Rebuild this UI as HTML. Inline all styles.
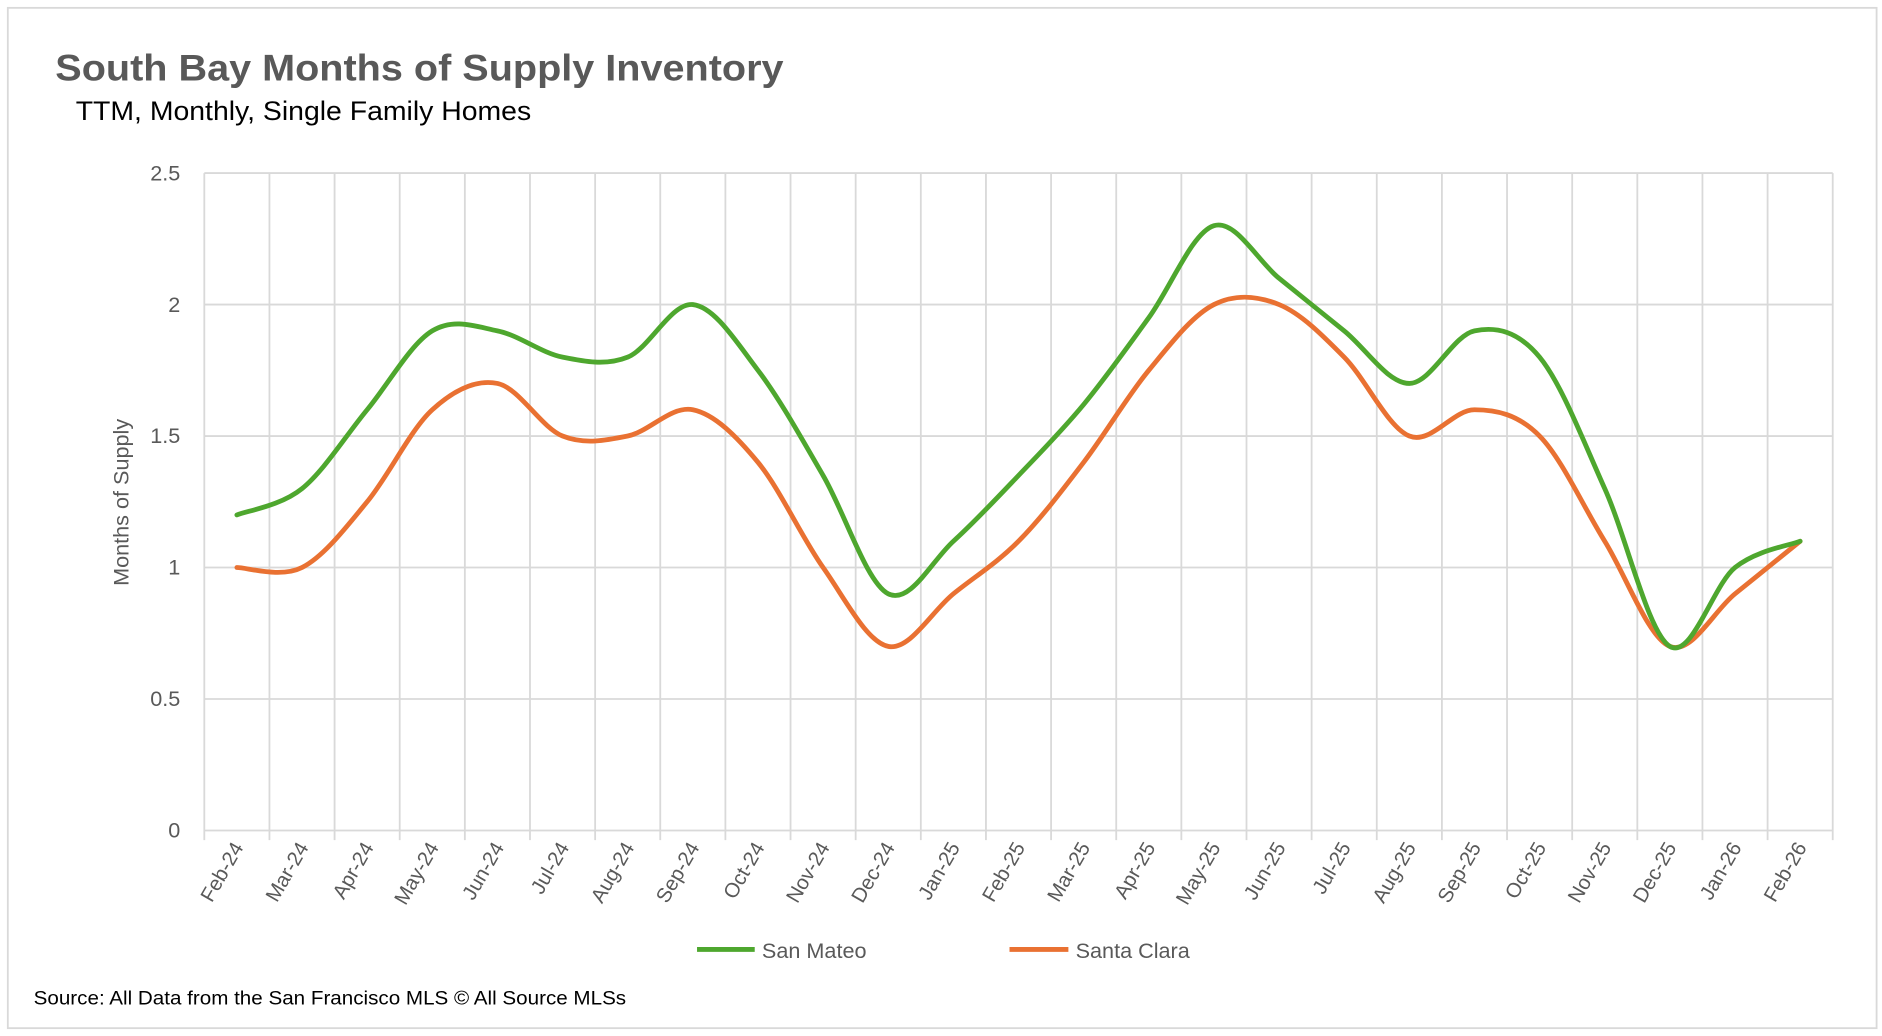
<!DOCTYPE html>
<html><head><meta charset="utf-8"><style>
html,body{margin:0;padding:0;background:#fff;}
svg{display:block;}
text{font-family:"Liberation Sans",sans-serif;}
</style></head><body>
<svg id="chart" width="1882" height="1036" viewBox="0 0 1566 862" xmlns="http://www.w3.org/2000/svg">
<rect x="0" y="0" width="1566" height="862" fill="#fff"/>
<rect x="6.5" y="6.5" width="1555" height="849" fill="none" stroke="#d9d9d9" stroke-width="1.5"/>
<text x="46" y="67" font-size="31" font-weight="bold" fill="#595959" textLength="606" lengthAdjust="spacingAndGlyphs">South Bay Months of Supply Inventory</text>
<text x="63" y="100" font-size="22" fill="#000" textLength="379" lengthAdjust="spacingAndGlyphs">TTM, Monthly, Single Family Homes</text>
<g id="grid"></g>
<g id="series"></g>
<text transform="translate(107,418) rotate(-90)" text-anchor="middle" font-size="18" fill="#595959">Months of Supply</text>
<g>
<line x1="580" y1="790" x2="628" y2="790" stroke="#4ea72e" stroke-width="4"/>
<text x="634" y="797" font-size="18" fill="#595959">San Mateo</text>
<line x1="840" y1="790" x2="889" y2="790" stroke="#e97132" stroke-width="4"/>
<text x="895" y="797" font-size="18" fill="#595959">Santa Clara</text>
</g>
<text x="28" y="836" font-size="16" fill="#000" textLength="493" lengthAdjust="spacingAndGlyphs">Source: All Data from the San Francisco MLS © All Source MLSs</text>
</svg>
<script>
const categories = ["Feb-24","Mar-24","Apr-24","May-24","Jun-24","Jul-24","Aug-24","Sep-24","Oct-24","Nov-24","Dec-24","Jan-25","Feb-25","Mar-25","Apr-25","May-25","Jun-25","Jul-25","Aug-25","Sep-25","Oct-25","Nov-25","Dec-25","Jan-26","Feb-26"];
const sanMateo = [1.2,1.3,1.6,1.9,1.9,1.8,1.8,2.0,1.75,1.35,0.9,1.1,1.35,1.62,1.95,2.3,2.1,1.9,1.7,1.9,1.8,1.3,0.7,1.0,1.1];
const santaClara = [1.0,1.0,1.25,1.6,1.7,1.5,1.5,1.6,1.4,1.0,0.7,0.9,1.1,1.4,1.75,2.0,2.0,1.8,1.5,1.6,1.5,1.1,0.7,0.9,1.1];
const yTicks = [0,0.5,1,1.5,2,2.5];
const yTickLabels = ["0","0.5","1","1.5","2","2.5"];

const NS="http://www.w3.org/2000/svg";
const L=170,R=1525,T=144,B=691,yMax=2.5;
const step=(R-L)/categories.length;
const xPos=i=>L+step*(i+0.5);
const yPos=v=>B-(v/yMax)*(B-T);
const grid=document.getElementById('grid');
function mk(tag,attrs,parent){const e=document.createElementNS(NS,tag);for(const k in attrs)e.setAttribute(k,attrs[k]);parent.appendChild(e);return e;}
yTicks.forEach((v,i)=>{
  const ln=mk('line',{x1:L,x2:R,y1:yPos(v),y2:yPos(v),stroke:'#d9d9d9','stroke-width':1.5},grid);
  
  
  const t=mk('text',{x:150,y:yPos(v)+6,'text-anchor':'end','font-size':18,fill:'#595959'},grid);
  t.textContent=yTickLabels[i];
  
  
});
for(let i=0;i<=categories.length;i++){
  const x=L+step*i;
  const ln=mk('line',{x1:x,x2:x,y1:T,y2:B+8,stroke:'#d9d9d9','stroke-width':1.5},grid);
  
  
}
categories.forEach((c,i)=>{
  const x=xPos(i)+6,y=B+14;
  const t=mk('text',{transform:`translate(${x},${y}) rotate(-60)`,'text-anchor':'end','font-size':17,fill:'#595959'},grid);
  t.textContent=c;
  
  
});
function smooth(vals){
  const p=vals.map((v,i)=>[xPos(i),yPos(v)]);
  let d=`M${p[0][0]},${p[0][1]}`;
  const k=1/6;
  for(let i=0;i<p.length-1;i++){
    const p0=p[i-1]||p[i],p1=p[i],p2=p[i+1],p3=p[i+2]||p[i+1];
    const c1=[p1[0]+(p2[0]-p0[0])*k,p1[1]+(p2[1]-p0[1])*k];
    const c2=[p2[0]-(p3[0]-p1[0])*k,p2[1]-(p3[1]-p1[1])*k];
    d+=` C${c1[0]},${c1[1]} ${c2[0]},${c2[1]} ${p2[0]},${p2[1]}`;
  }
  return d;
}
const sg=document.getElementById('series');
const sc=mk('path',{d:smooth(santaClara),fill:'none',stroke:'#e97132','stroke-width':4,'stroke-linecap':'round'},sg);


const sm=mk('path',{d:smooth(sanMateo),fill:'none',stroke:'#4ea72e','stroke-width':4,'stroke-linecap':'round'},sg);


</script>
</body></html>
